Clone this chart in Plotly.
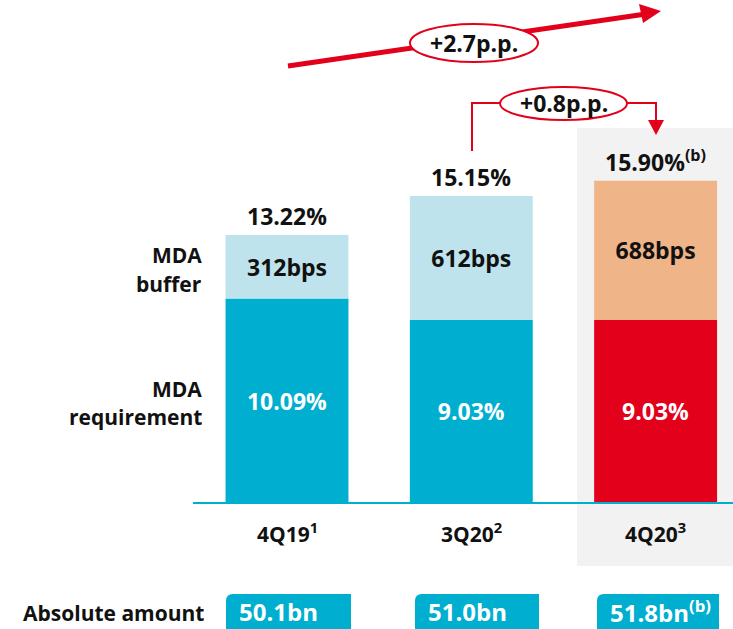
import plotly.graph_objects as go

# ---- data -------------------------------------------------------------
quarters = ["4Q19<sup>1</sup>", "3Q20<sup>2</sup>", "4Q20<sup>3</sup>"]
requirement = [10.09, 9.03, 9.03]          # MDA requirement, %
buffer_bps = [312, 612, 688]               # MDA buffer, bps
totals = [13.22, 15.15, 15.90]             # CET1 ratio, %
total_labels = ["13.22%", "15.15%", "15.90%<sup>(b)</sup>"]
absolute = ["50.1bn", "51.0bn", "51.8bn<sup>(b)</sup>"]
change_total = "+2.7p.p."
change_quarter = "+0.8p.p."

buffer = [t - r for t, r in zip(totals, requirement)]

# ---- palette ----------------------------------------------------------
CYAN = "#00AECF"
LIGHT_BLUE = "#BFE3EC"
RED = "#E2001A"
PEACH = "#EFB487"
GREY = "#F2F2F2"
INK = "#111111"
FONT = "Open Sans"

W, H = 733, 629
BASE_PX, PX_PER_UNIT = 503, 20.27
X0_PX, PX_PER_CAT = 287, 184.3

x = list(range(len(quarters)))


def px(xp):
    return xp / W


def py(yp):
    return 1 - yp / H


def label(xv, yv, text, size, color=INK, xanchor="center", xref="paper", yref="paper",
          **kw):
    return dict(x=xv, y=yv, xref=xref, yref=yref, text=text, showarrow=False,
                xanchor=xanchor, yanchor=kw.pop("yanchor", "middle"),
                font=dict(family=FONT, size=size, color=color, weight="bold"), **kw)


fig = go.Figure()

fig.add_trace(go.Bar(
    x=x, y=requirement, width=0.667,
    marker=dict(color=[CYAN, CYAN, RED], line=dict(width=0)),
    text=[f"{v:.2f}%" for v in requirement], textposition="inside",
    insidetextanchor="middle", constraintext="none",
    textfont=dict(family=FONT, size=23, color="white", weight="bold"),
    hoverinfo="skip",
))
fig.add_trace(go.Bar(
    x=x, y=buffer, base=requirement, width=0.667,
    marker=dict(color=[LIGHT_BLUE, LIGHT_BLUE, PEACH], line=dict(width=0)),
    text=[f"{b}bps" for b in buffer_bps], textposition="inside",
    insidetextanchor="middle", constraintext="none",
    textfont=dict(family=FONT, size=23, color=INK, weight="bold"),
    hoverinfo="skip",
))

shapes = []
annotations = []

# highlight panel behind the latest quarter
shapes.append(dict(type="rect", xref="paper", yref="paper", layer="below",
                   x0=px(577), x1=1, y0=py(566), y1=py(128),
                   fillcolor=GREY, line=dict(width=0)))

# baseline
shapes.append(dict(type="line", xref="paper", yref="y",
                   x0=px(193), x1=1, y0=0, y1=0,
                   line=dict(color=CYAN, width=2)))

# total labels above bars and category labels below
for i in x:
    annotations.append(label(i, totals[i], total_labels[i], 23, xref="x", yref="y",
                             yanchor="bottom", yshift=1))
    annotations.append(label(i, py(532), quarters[i], 21, xref="x"))

# series labels on the left
for txt, yc in [("MDA", 255), ("buffer", 284), ("MDA", 389), ("requirement", 417)]:
    annotations.append(label(px(204), py(yc), txt, 21, xanchor="right"))

# absolute amount boxes
annotations.append(label(px(206), py(613), "Absolute amount", 21, xanchor="right"))
box_edges = [(226, 351), (415, 539), (597, 719)]
r = 7
for (l, rr), txt in zip(box_edges, absolute):
    x0, x1, y0, y1 = px(l), px(rr), py(594), py(640)
    dx, dy = r / W, r / H
    shapes.append(dict(type="path", xref="paper", yref="paper",
                       path=(f"M {x0},{y1} L {x0},{y0 - dy} Q {x0},{y0} {x0 + dx},{y0} "
                             f"L {x1},{y0} L {x1},{y1} Z"),
                       fillcolor=CYAN, line=dict(width=0)))
    annotations.append(label(px(l + 11), py(611), txt, 24, color="white", xanchor="left"))

# overall change arrow
ax0, ay0, ax1, ay1 = 288, 66, 646, 14
shapes.append(dict(type="line", xref="paper", yref="paper",
                   x0=px(ax0), y0=py(ay0), x1=px(ax1), y1=py(ay1),
                   line=dict(color=RED, width=5)))
shapes.append(dict(type="path", xref="paper", yref="paper",
                   path=(f"M {px(661)},{py(11)} L {px(639)},{py(4)} "
                         f"L {px(643)},{py(23)} Z"),
                   fillcolor=RED, line=dict(width=0)))
shapes.append(dict(type="circle", xref="paper", yref="paper",
                   x0=px(410), x1=px(538), y0=py(62), y1=py(24),
                   fillcolor="white", line=dict(color=RED, width=2)))
annotations.append(label(px(474), py(43), change_total, 23))

# quarter-on-quarter bracket
shapes.append(dict(type="path", xref="paper", yref="paper",
                   path=(f"M {px(472)},{py(151)} L {px(472)},{py(103)} L {px(501)},{py(103)} "
                         f"M {px(626)},{py(103)} L {px(656)},{py(103)} L {px(656)},{py(122)}"),
                   line=dict(color=RED, width=2)))
shapes.append(dict(type="path", xref="paper", yref="paper",
                   path=(f"M {px(648)},{py(120)} L {px(664)},{py(120)} "
                         f"L {px(656)},{py(135)} Z"),
                   fillcolor=RED, line=dict(width=0)))
shapes.append(dict(type="circle", xref="paper", yref="paper",
                   x0=px(500), x1=px(627), y0=py(120), y1=py(87),
                   fillcolor="white", line=dict(color=RED, width=2)))
annotations.append(label(px(564), py(103), change_quarter, 23))

fig.update_layout(
    width=W, height=H,
    margin=dict(l=0, r=0, t=0, b=0),
    paper_bgcolor="white", plot_bgcolor="rgba(0,0,0,0)",
    barmode="overlay", showlegend=False,
    xaxis=dict(range=[-X0_PX / PX_PER_CAT, (W - X0_PX) / PX_PER_CAT],
               visible=False, fixedrange=True),
    yaxis=dict(range=[-(H - BASE_PX) / PX_PER_UNIT, BASE_PX / PX_PER_UNIT],
               visible=False, fixedrange=True),
    shapes=shapes, annotations=annotations,
    font=dict(family=FONT),
)

fig.write_html("out.html")
